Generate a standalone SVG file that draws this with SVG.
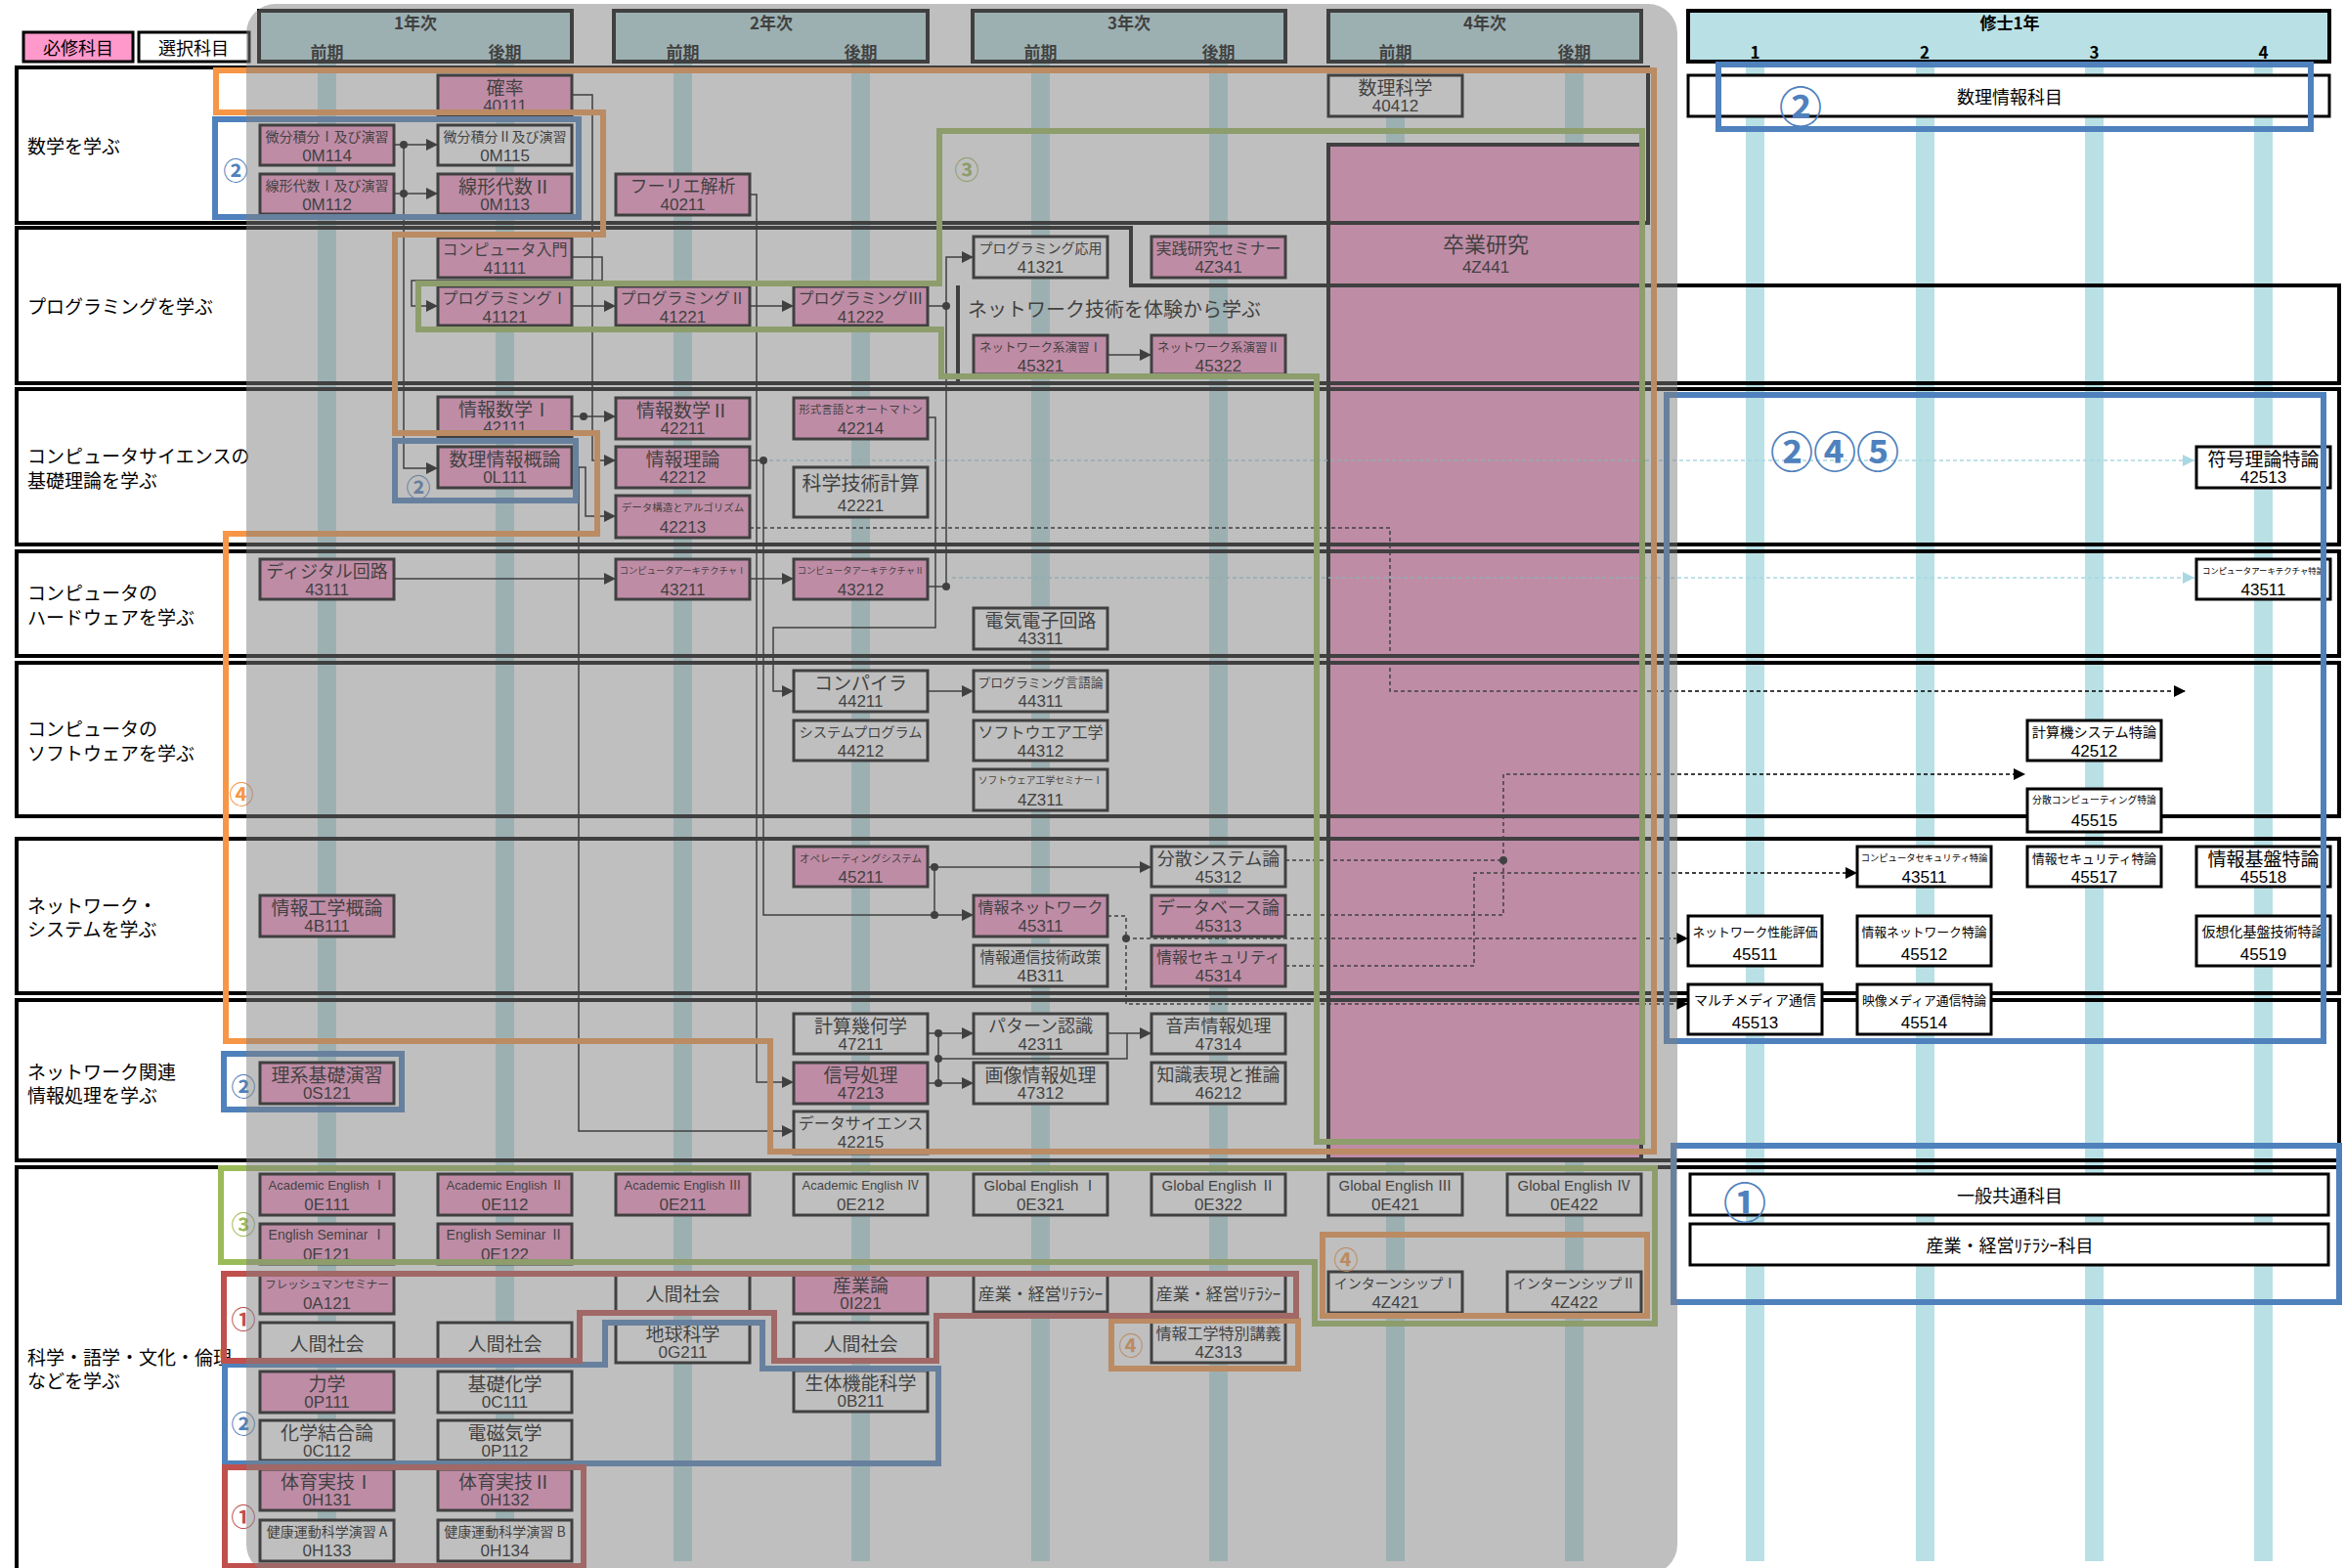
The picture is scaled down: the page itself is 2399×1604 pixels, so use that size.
<svg xmlns="http://www.w3.org/2000/svg" width="2399" height="1604" viewBox="0 0 2399 1604">
<defs>
<style>
text{font-family:"Noto Sans CJK JP","Noto Sans",sans-serif;fill:#000}
.c{text-anchor:middle;dominant-baseline:central}
.l{dominant-baseline:central;font-size:19px}
.q{fill:#ff99cc;stroke:#000;stroke-width:3}
.o{fill:#fff;stroke:#000;stroke-width:3}
.cd{font-family:"Liberation Sans","Noto Sans CJK JP",sans-serif;font-size:17px}
.en{font-family:"Liberation Sans","Noto Sans CJK JP",sans-serif}
.row{fill:none;stroke:#000;stroke-width:4}
.st{fill:#b9e0e5}
.hd{fill:#b9e0e5;stroke:#000;stroke-width:4}
.hb{font-weight:bold;font-size:17px}
.cn{fill:none;stroke:#000;stroke-width:1.5}
.dash{fill:none;stroke:#000;stroke-width:1.5;stroke-dasharray:4 3}
.teal{fill:none;stroke:#a8d8e2;stroke-width:1.5;stroke-dasharray:4 3}
.or{fill:none;stroke:#f79646;stroke-width:6}
.gr{fill:none;stroke:#9bbb59;stroke-width:6}
.bl{fill:none;stroke:#4f81bd;stroke-width:6}
.rd{fill:none;stroke:#c0504d;stroke-width:6}
.num{font-size:25px;font-weight:bold;text-anchor:middle;dominant-baseline:central}
.big{font-size:44px}
text.tO{fill:#f79646}
text.tG{fill:#9bbb59}
text.tB{fill:#4f81bd}
text.tR{fill:#c0504d}
</style>
<marker id="a" markerUnits="userSpaceOnUse" markerWidth="12" markerHeight="12" refX="12" refY="6" orient="auto"><path d="M0,0L12,6L0,12z" fill="#000"/></marker>
<marker id="at" markerUnits="userSpaceOnUse" markerWidth="12" markerHeight="12" refX="12" refY="6" orient="auto"><path d="M0,0L12,6L0,12z" fill="#a8d8e2"/></marker>
</defs>
<rect width="2399" height="1604" fill="#fff"/>

<g id="stripes">
<rect class="st" x="325" y="63" width="19" height="1534"/>
<rect class="st" x="507" y="63" width="19" height="1534"/>
<rect class="st" x="689" y="63" width="19" height="1534"/>
<rect class="st" x="871" y="63" width="19" height="1534"/>
<rect class="st" x="1055" y="63" width="19" height="1534"/>
<rect class="st" x="1237" y="63" width="19" height="1534"/>
<rect class="st" x="1418" y="63" width="19" height="1534"/>
<rect class="st" x="1601" y="63" width="19" height="1534"/>
<rect class="st" x="1786" y="63" width="19" height="1534"/>
<rect class="st" x="1960" y="63" width="19" height="1534"/>
<rect class="st" x="2133" y="63" width="19" height="1534"/>
<rect class="st" x="2306" y="63" width="19" height="1534"/>
</g>

<g id="n4Z441">
<rect x="1359" y="148" width="320" height="1038" fill="#ff99cc" stroke="#000" stroke-width="4"/>
<text class="c" x="1520" y="248" font-size="22">卒業研究</text>
<text class="c cd" x="1520" y="273">4Z441</text>
</g>

<g id="rows">
<rect class="row" x="17" y="69" width="1669" height="159"/>
<path class="row" d="M17,233H1157V292H2393V392H17Z"/>
<path class="row" d="M980,292V392"/>
<rect class="row" x="17" y="398" width="2376" height="159"/>
<rect class="row" x="17" y="564" width="2376" height="107"/>
<rect class="row" x="17" y="678" width="2376" height="157"/>
<rect class="row" x="17" y="858" width="2376" height="158"/>
<rect class="row" x="17" y="1023" width="2376" height="164"/>
<path class="row" d="M2393,1194H17V1610"/>
<text class="l" x="28" y="148">数学を学ぶ</text>
<text class="l" x="28" y="312">プログラミングを学ぶ</text>
<text class="l" x="990" y="315" style="font-size:20px">ネットワーク技術を体験から学ぶ</text>
<text class="l" x="28" y="465">コンピュータサイエンスの</text>
<text class="l" x="28" y="490">基礎理論を学ぶ</text>
<text class="l" x="28" y="605">コンピュータの</text>
<text class="l" x="28" y="630">ハードウェアを学ぶ</text>
<text class="l" x="28" y="744">コンピュータの</text>
<text class="l" x="28" y="769">ソフトウェアを学ぶ</text>
<text class="l" x="28" y="925">ネットワーク・</text>
<text class="l" x="28" y="949">システムを学ぶ</text>
<text class="l" x="28" y="1095">ネットワーク関連</text>
<text class="l" x="28" y="1119">情報処理を学ぶ</text>
<text class="l" x="28" y="1387">科学・語学・文化・倫理</text>
<text class="l" x="28" y="1411">などを学ぶ</text>
</g>

<g id="legend">
<rect x="24" y="33" width="112" height="30" fill="#ff99cc" stroke="#000" stroke-width="3"/>
<text class="c" x="80" y="48" font-size="18">必修科目</text>
<rect x="142" y="33" width="113" height="30" fill="#fff" stroke="#000" stroke-width="3"/>
<text class="c" x="198" y="48" font-size="18">選択科目</text>
</g>

<g id="headers">
<rect class="hd" x="265" y="11" width="320" height="52"/>
<text class="c hb" x="425" y="22">1年次</text><text class="c hb" x="334.5" y="52">前期</text><text class="c hb" x="516.5" y="52">後期</text>
<rect class="hd" x="628" y="11" width="321" height="52"/>
<text class="c hb" x="789" y="22">2年次</text><text class="c hb" x="698.5" y="52">前期</text><text class="c hb" x="880.5" y="52">後期</text>
<rect class="hd" x="995" y="11" width="320" height="52"/>
<text class="c hb" x="1155" y="22">3年次</text><text class="c hb" x="1064.5" y="52">前期</text><text class="c hb" x="1246.5" y="52">後期</text>
<rect class="hd" x="1359" y="11" width="320" height="52"/>
<text class="c hb" x="1519" y="22">4年次</text><text class="c hb" x="1427.5" y="52">前期</text><text class="c hb" x="1610.5" y="52">後期</text>
<rect class="hd" x="1727" y="11" width="656" height="52"/>
<text class="c hb" x="2056" y="22">修士1年</text>
<text class="c hb" x="1795.5" y="52">1</text><text class="c hb" x="1969" y="52">2</text><text class="c hb" x="2142.5" y="52">3</text><text class="c hb" x="2315.5" y="52">4</text>
</g>

<g id="connectors">
<path class="cn" marker-end="url(#a)" d="M403,148H448"/>
<path class="cn" marker-end="url(#a)" d="M403,198H448"/>
<path class="cn" marker-end="url(#a)" d="M413,148V479H448"/>
<circle cx="413" cy="148" r="4"/><circle cx="413" cy="198" r="4"/>
<path class="cn" marker-end="url(#a)" d="M585,263H616V287H421V313H448"/>
<path class="cn" marker-end="url(#a)" d="M585,313H630"/>
<path class="cn" marker-end="url(#a)" d="M767,313H812"/>
<path class="cn" d="M949,313H968M949,600H968"/>
<path class="cn" marker-end="url(#a)" d="M968,600V263H996"/>
<circle cx="968" cy="313" r="4"/><circle cx="968" cy="600" r="4"/>
<path class="cn" marker-end="url(#a)" d="M1133,363H1178"/>
<path class="cn" marker-end="url(#a)" d="M585,97H606V471H630"/>
<path class="cn" marker-end="url(#a)" d="M585,426H630"/>
<circle cx="597" cy="426" r="4"/>
<path class="cn" marker-end="url(#a)" d="M589,478H599V528H630"/>
<path class="cn" marker-end="url(#a)" d="M592,478V1157H812"/>
<path class="cn" marker-end="url(#a)" d="M767,199H774V1107H812"/>
<path class="cn" d="M767,471H781"/>
<path class="cn" marker-end="url(#a)" d="M781,471V936H996"/>
<circle cx="781" cy="471" r="4"/><circle cx="956" cy="936" r="4"/>
<path class="cn" marker-end="url(#a)" d="M949,427H957V642H791V707H812"/>
<path class="cn" marker-end="url(#a)" d="M949,707H996"/>
<path class="cn" marker-end="url(#a)" d="M403,592H630"/>
<path class="cn" marker-end="url(#a)" d="M767,592H812"/>
<path class="cn" marker-end="url(#a)" d="M949,887H1178"/>
<path class="cn" d="M956,887V936"/>
<circle cx="956" cy="887" r="4"/>
<path class="cn" marker-end="url(#a)" d="M949,1057H996"/>
<path class="cn" marker-end="url(#a)" d="M949,1108H996"/>
<path class="cn" d="M960,1057V1108M960,1083H1153V1057"/>
<path class="cn" marker-end="url(#a)" d="M1133,1057H1178"/>
<circle cx="960" cy="1057" r="4"/><circle cx="960" cy="1083" r="4"/><circle cx="960" cy="1108" r="4"/>
<path class="dash" marker-end="url(#a)" d="M767,540H1422V707H2236"/>
<path class="dash" d="M1315,880H1538V936H1315"/>
<path class="dash" marker-end="url(#a)" d="M1538,880V792H2072"/>
<circle cx="1538" cy="880" r="4"/>
<path class="dash" marker-end="url(#a)" d="M1315,988H1508V893H1900"/>
<path class="dash" marker-end="url(#a)" d="M1133,937H1152V1027H1727"/>
<path class="dash" marker-end="url(#a)" d="M1152,960H1727"/>
<circle cx="1152" cy="960" r="4"/>
<path class="teal" marker-end="url(#at)" d="M787,471H2245"/>
<path class="teal" marker-end="url(#at)" d="M974,591H2245"/>
</g>

<g id="nodes">
<g id="n40111"><rect class="q" x="448" y="77" width="137" height="42"/><text class="c" x="516.5" y="88" font-size="19">確率</text><text class="c cd" x="516.5" y="108">40111</text></g>
<g id="n0M114"><rect class="q" x="266" y="128" width="137" height="41"/><text class="c" x="334.5" y="139" font-size="14">微分積分Ⅰ及び演習</text><text class="c cd" x="334.5" y="159">0M114</text></g>
<g id="n0M115"><rect class="o" x="448" y="128" width="137" height="41"/><text class="c" x="516.5" y="139" font-size="14">微分積分Ⅱ及び演習</text><text class="c cd" x="516.5" y="159">0M115</text></g>
<g id="n0M112"><rect class="q" x="266" y="178" width="137" height="41"/><text class="c" x="334.5" y="189" font-size="14">線形代数Ⅰ及び演習</text><text class="c cd" x="334.5" y="209">0M112</text></g>
<g id="n0M113"><rect class="q" x="448" y="178" width="137" height="41"/><text class="c" x="516.5" y="189" font-size="19">線形代数Ⅱ</text><text class="c cd" x="516.5" y="209">0M113</text></g>
<g id="n40211"><rect class="q" x="630" y="178" width="137" height="42"/><text class="c" x="698.5" y="189" font-size="18">フーリエ解析</text><text class="c cd" x="698.5" y="209">40211</text></g>
<g id="n40412"><rect class="o" x="1359" y="77" width="137" height="42"/><text class="c" x="1427.5" y="88" font-size="19">数理科学</text><text class="c cd" x="1427.5" y="108">40412</text></g>

<g id="n41111"><rect class="q" x="448" y="243" width="137" height="41"/><text class="c" x="516.5" y="254" font-size="16">コンピュータ入門</text><text class="c cd" x="516.5" y="274">41111</text></g>
<g id="n41121"><rect class="q" x="448" y="293" width="137" height="40"/><text class="c" x="516.5" y="304" font-size="16">プログラミングⅠ</text><text class="c cd" x="516.5" y="324">41121</text></g>
<g id="n41221"><rect class="q" x="630" y="293" width="137" height="40"/><text class="c" x="698.5" y="304" font-size="16">プログラミングⅡ</text><text class="c cd" x="698.5" y="324">41221</text></g>
<g id="n41222"><rect class="q" x="812" y="293" width="137" height="40"/><text class="c" x="880.5" y="304" font-size="16">プログラミングⅢ</text><text class="c cd" x="880.5" y="324">41222</text></g>
<g id="n41321"><rect class="o" x="996" y="242" width="137" height="42"/><text class="c" x="1064.5" y="253" font-size="14">プログラミング応用</text><text class="c cd" x="1064.5" y="273">41321</text></g>
<g id="n4Z341"><rect class="q" x="1178" y="242" width="137" height="42"/><text class="c" x="1246.5" y="253" font-size="16">実践研究セミナー</text><text class="c cd" x="1246.5" y="273">4Z341</text></g>
<g id="n45321"><rect class="q" x="996" y="343" width="137" height="40"/><text class="c" x="1064.5" y="354" font-size="12.5">ネットワーク系演習Ⅰ</text><text class="c cd" x="1064.5" y="374">45321</text></g>
<g id="n45322"><rect class="q" x="1178" y="343" width="137" height="40"/><text class="c" x="1246.5" y="354" font-size="12.5">ネットワーク系演習Ⅱ</text><text class="c cd" x="1246.5" y="374">45322</text></g>

<g id="n42111"><rect class="q" x="448" y="406" width="137" height="41"/><text class="c" x="516.5" y="417" font-size="19">情報数学Ⅰ</text><text class="c cd" x="516.5" y="437">42111</text></g>
<g id="n0L111"><rect class="q" x="448" y="457" width="137" height="42"/><text class="c" x="516.5" y="468" font-size="19">数理情報概論</text><text class="c cd" x="516.5" y="488">0L111</text></g>
<g id="n42211"><rect class="q" x="630" y="407" width="137" height="42"/><text class="c" x="698.5" y="418" font-size="19">情報数学Ⅱ</text><text class="c cd" x="698.5" y="438">42211</text></g>
<g id="n42212"><rect class="q" x="630" y="457" width="137" height="42"/><text class="c" x="698.5" y="468" font-size="19">情報理論</text><text class="c cd" x="698.5" y="488">42212</text></g>
<g id="n42213"><rect class="q" x="630" y="507" width="137" height="43"/><text class="c" x="698.5" y="518" font-size="10.5">データ構造とアルゴリズム</text><text class="c cd" x="698.5" y="539">42213</text></g>
<g id="n42214"><rect class="q" x="812" y="407" width="137" height="42"/><text class="c" x="880.5" y="418" font-size="11.5">形式言語とオートマトン</text><text class="c cd" x="880.5" y="438">42214</text></g>
<g id="n42221"><rect class="o" x="812" y="478" width="137" height="51"/><text class="c" x="880.5" y="493" font-size="20">科学技術計算</text><text class="c cd" x="880.5" y="517">42221</text></g>
<g id="n42513"><rect class="o" x="2247" y="457" width="137" height="42"/><text class="c" x="2315.5" y="468" font-size="19">符号理論特論</text><text class="c cd" x="2315.5" y="488">42513</text></g>

<g id="n43111"><rect class="q" x="266" y="572" width="137" height="41"/><text class="c" x="334.5" y="583" font-size="18">ディジタル回路</text><text class="c cd" x="334.5" y="603">43111</text></g>
<g id="n43211"><rect class="q" x="630" y="572" width="137" height="41"/><text class="c" x="698.5" y="583" font-size="9.3">コンピュータアーキテクチャⅠ</text><text class="c cd" x="698.5" y="603">43211</text></g>
<g id="n43212"><rect class="q" x="812" y="572" width="137" height="41"/><text class="c" x="880.5" y="583" font-size="9.3">コンピュータアーキテクチャⅡ</text><text class="c cd" x="880.5" y="603">43212</text></g>
<g id="n43311"><rect class="o" x="996" y="622" width="137" height="42"/><text class="c" x="1064.5" y="633" font-size="19">電気電子回路</text><text class="c cd" x="1064.5" y="653">43311</text></g>
<g id="n43511a"><rect class="o" x="2247" y="572" width="137" height="41"/><text class="c" x="2315.5" y="583" font-size="8.4">コンピュータアーキテクチャ特論</text><text class="c cd" x="2315.5" y="603">43511</text></g>

<g id="n44211"><rect class="o" x="812" y="686" width="137" height="42"/><text class="c" x="880.5" y="697" font-size="19">コンパイラ</text><text class="c cd" x="880.5" y="717">44211</text></g>
<g id="n44311"><rect class="o" x="996" y="686" width="137" height="42"/><text class="c" x="1064.5" y="697" font-size="12.8">プログラミング言語論</text><text class="c cd" x="1064.5" y="717">44311</text></g>
<g id="n44212"><rect class="o" x="812" y="737" width="137" height="41"/><text class="c" x="880.5" y="748" font-size="14.2">システムプログラム</text><text class="c cd" x="880.5" y="768">44212</text></g>
<g id="n44312"><rect class="o" x="996" y="737" width="137" height="41"/><text class="c" x="1064.5" y="748" font-size="16">ソフトウエア工学</text><text class="c cd" x="1064.5" y="768">44312</text></g>
<g id="n4Z311"><rect class="o" x="996" y="787" width="137" height="42"/><text class="c" x="1064.5" y="798" font-size="9.8">ソフトウェア工学セミナーⅠ</text><text class="c cd" x="1064.5" y="818">4Z311</text></g>
<g id="n42512"><rect class="o" x="2074" y="737" width="137" height="41"/><text class="c" x="2142.5" y="748" font-size="14.2">計算機システム特論</text><text class="c cd" x="2142.5" y="768">42512</text></g>
<g id="n45515"><rect class="o" x="2074" y="807" width="137" height="44"/><text class="c" x="2142.5" y="818" font-size="9.8">分散コンピューティング特論</text><text class="c cd" x="2142.5" y="839">45515</text></g>

<g id="n4B111"><rect class="q" x="266" y="916" width="137" height="42"/><text class="c" x="334.5" y="927" font-size="19">情報工学概論</text><text class="c cd" x="334.5" y="947">4B111</text></g>
<g id="n45211"><rect class="q" x="812" y="866" width="137" height="41"/><text class="c" x="880.5" y="877" font-size="10.5">オペレーティングシステム</text><text class="c cd" x="880.5" y="897">45211</text></g>
<g id="n45311"><rect class="q" x="996" y="916" width="137" height="42"/><text class="c" x="1064.5" y="927" font-size="16">情報ネットワーク</text><text class="c cd" x="1064.5" y="947">45311</text></g>
<g id="n4B311"><rect class="o" x="996" y="967" width="137" height="42"/><text class="c" x="1064.5" y="978" font-size="15.5">情報通信技術政策</text><text class="c cd" x="1064.5" y="998">4B311</text></g>
<g id="n45312"><rect class="o" x="1178" y="866" width="137" height="41"/><text class="c" x="1246.5" y="877" font-size="18">分散システム論</text><text class="c cd" x="1246.5" y="897">45312</text></g>
<g id="n45313"><rect class="q" x="1178" y="916" width="137" height="42"/><text class="c" x="1246.5" y="927" font-size="18">データベース論</text><text class="c cd" x="1246.5" y="947">45313</text></g>
<g id="n45314"><rect class="q" x="1178" y="967" width="137" height="42"/><text class="c" x="1246.5" y="978" font-size="16">情報セキュリティ</text><text class="c cd" x="1246.5" y="998">45314</text></g>
<g id="n43511b"><rect class="o" x="1900" y="866" width="137" height="41"/><text class="c" x="1968.5" y="877" font-size="9.3">コンピュータセキュリティ特論</text><text class="c cd" x="1968.5" y="897">43511</text></g>
<g id="n45517"><rect class="o" x="2074" y="866" width="137" height="41"/><text class="c" x="2142.5" y="877" font-size="12.8">情報セキュリティ特論</text><text class="c cd" x="2142.5" y="897">45517</text></g>
<g id="n45518"><rect class="o" x="2247" y="866" width="137" height="41"/><text class="c" x="2315.5" y="877" font-size="19">情報基盤特論</text><text class="c cd" x="2315.5" y="897">45518</text></g>
<g id="n45511"><rect class="o" x="1727" y="937" width="137" height="51"/><text class="c" x="1795.5" y="952" font-size="12.8">ネットワーク性能評価</text><text class="c cd" x="1795.5" y="976">45511</text></g>
<g id="n45512"><rect class="o" x="1900" y="937" width="137" height="51"/><text class="c" x="1968.5" y="952" font-size="12.8">情報ネットワーク特論</text><text class="c cd" x="1968.5" y="976">45512</text></g>
<g id="n45519"><rect class="o" x="2247" y="937" width="137" height="51"/><text class="c" x="2315.5" y="952" font-size="14">仮想化基盤技術特論</text><text class="c cd" x="2315.5" y="976">45519</text></g>

<g id="n0S121"><rect class="q" x="266" y="1087" width="137" height="42"/><text class="c" x="334.5" y="1098" font-size="19">理系基礎演習</text><text class="c cd" x="334.5" y="1118">0S121</text></g>
<g id="n47211"><rect class="o" x="812" y="1037" width="137" height="41"/><text class="c" x="880.5" y="1048" font-size="19">計算幾何学</text><text class="c cd" x="880.5" y="1068">47211</text></g>
<g id="n42311"><rect class="o" x="996" y="1037" width="137" height="41"/><text class="c" x="1064.5" y="1048" font-size="18">パターン認識</text><text class="c cd" x="1064.5" y="1068">42311</text></g>
<g id="n47314"><rect class="o" x="1178" y="1037" width="137" height="41"/><text class="c" x="1246.5" y="1048" font-size="18">音声情報処理</text><text class="c cd" x="1246.5" y="1068">47314</text></g>
<g id="n47213"><rect class="q" x="812" y="1087" width="137" height="42"/><text class="c" x="880.5" y="1098" font-size="19">信号処理</text><text class="c cd" x="880.5" y="1118">47213</text></g>
<g id="n47312"><rect class="o" x="996" y="1087" width="137" height="42"/><text class="c" x="1064.5" y="1098" font-size="19">画像情報処理</text><text class="c cd" x="1064.5" y="1118">47312</text></g>
<g id="n46212"><rect class="o" x="1178" y="1087" width="137" height="42"/><text class="c" x="1246.5" y="1098" font-size="18">知識表現と推論</text><text class="c cd" x="1246.5" y="1118">46212</text></g>
<g id="n42215"><rect class="o" x="812" y="1137" width="137" height="43"/><text class="c" x="880.5" y="1148" font-size="16">データサイエンス</text><text class="c cd" x="880.5" y="1168">42215</text></g>
<g id="n45513"><rect class="o" x="1727" y="1007" width="137" height="51"/><text class="c" x="1795.5" y="1022" font-size="14">マルチメディア通信</text><text class="c cd" x="1795.5" y="1046">45513</text></g>
<g id="n45514"><rect class="o" x="1900" y="1007" width="137" height="51"/><text class="c" x="1968.5" y="1022" font-size="12.8">映像メディア通信特論</text><text class="c cd" x="1968.5" y="1046">45514</text></g>

<g id="n0E111"><rect class="q" x="266" y="1201" width="137" height="42"/><text class="c en" x="334.5" y="1212" font-size="13">Academic English Ⅰ</text><text class="c cd" x="334.5" y="1232">0E111</text></g>
<g id="n0E112"><rect class="q" x="448" y="1201" width="137" height="42"/><text class="c en" x="516.5" y="1212" font-size="13">Academic English Ⅱ</text><text class="c cd" x="516.5" y="1232">0E112</text></g>
<g id="n0E211"><rect class="q" x="630" y="1201" width="137" height="42"/><text class="c en" x="698.5" y="1212" font-size="13">Academic English Ⅲ</text><text class="c cd" x="698.5" y="1232">0E211</text></g>
<g id="n0E212"><rect class="o" x="812" y="1201" width="137" height="42"/><text class="c en" x="880.5" y="1212" font-size="13">Academic English Ⅳ</text><text class="c cd" x="880.5" y="1232">0E212</text></g>
<g id="n0E321"><rect class="o" x="996" y="1201" width="137" height="42"/><text class="c en" x="1064.5" y="1212" font-size="15">Global English Ⅰ</text><text class="c cd" x="1064.5" y="1232">0E321</text></g>
<g id="n0E322"><rect class="o" x="1178" y="1201" width="137" height="42"/><text class="c en" x="1246.5" y="1212" font-size="15">Global English Ⅱ</text><text class="c cd" x="1246.5" y="1232">0E322</text></g>
<g id="n0E421"><rect class="o" x="1359" y="1201" width="137" height="42"/><text class="c en" x="1427.5" y="1212" font-size="15">Global English Ⅲ</text><text class="c cd" x="1427.5" y="1232">0E421</text></g>
<g id="n0E422"><rect class="o" x="1542" y="1201" width="137" height="42"/><text class="c en" x="1610.5" y="1212" font-size="15">Global English Ⅳ</text><text class="c cd" x="1610.5" y="1232">0E422</text></g>
<g id="n0E121"><rect class="q" x="266" y="1252" width="137" height="41"/><text class="c en" x="334.5" y="1263" font-size="14">English Seminar Ⅰ</text><text class="c cd" x="334.5" y="1283">0E121</text></g>
<g id="n0E122"><rect class="q" x="448" y="1252" width="137" height="41"/><text class="c en" x="516.5" y="1263" font-size="14">English Seminar Ⅱ</text><text class="c cd" x="516.5" y="1283">0E122</text></g>
<g id="n0A121"><rect class="q" x="266" y="1302" width="137" height="42"/><text class="c" x="334.5" y="1313" font-size="11.5">フレッシュマンセミナー</text><text class="c cd" x="334.5" y="1333">0A121</text></g>
<g id="nJ1"><rect class="o" x="266" y="1353" width="137" height="40"/><text class="c" x="334.5" y="1373" font-size="19">人間社会</text></g>
<g id="nJ2"><rect class="o" x="448" y="1353" width="137" height="40"/><text class="c" x="516.5" y="1373" font-size="19">人間社会</text></g>
<g id="nJ3"><rect class="o" x="630" y="1302" width="137" height="40"/><text class="c" x="698.5" y="1322" font-size="19">人間社会</text></g>
<g id="n0I221"><rect class="q" x="812" y="1302" width="137" height="42"/><text class="c" x="880.5" y="1313" font-size="19">産業論</text><text class="c cd" x="880.5" y="1333">0I221</text></g>
<g id="nJ4"><rect class="o" x="812" y="1353" width="137" height="40"/><text class="c" x="880.5" y="1373" font-size="19">人間社会</text></g>
<g id="nS1"><rect class="o" x="996" y="1302" width="137" height="40"/><text class="c" x="1064.5" y="1322" font-size="17">産業・経営ﾘﾃﾗｼｰ</text></g>
<g id="nS2"><rect class="o" x="1178" y="1302" width="137" height="40"/><text class="c" x="1246.5" y="1322" font-size="17">産業・経営ﾘﾃﾗｼｰ</text></g>
<g id="n0G211"><rect class="o" x="630" y="1352" width="137" height="42"/><text class="c" x="698.5" y="1363" font-size="19">地球科学</text><text class="c cd" x="698.5" y="1383">0G211</text></g>
<g id="n0B211"><rect class="o" x="812" y="1402" width="137" height="42"/><text class="c" x="880.5" y="1413" font-size="19">生体機能科学</text><text class="c cd" x="880.5" y="1433">0B211</text></g>
<g id="n4Z313"><rect class="o" x="1178" y="1352" width="137" height="42"/><text class="c" x="1246.5" y="1363" font-size="16">情報工学特別講義</text><text class="c cd" x="1246.5" y="1383">4Z313</text></g>
<g id="n4Z421"><rect class="o" x="1359" y="1301" width="137" height="42"/><text class="c" x="1427.5" y="1312" font-size="14">インターンシップⅠ</text><text class="c cd" x="1427.5" y="1332">4Z421</text></g>
<g id="n4Z422"><rect class="o" x="1542" y="1301" width="137" height="42"/><text class="c" x="1610.5" y="1312" font-size="14">インターンシップⅡ</text><text class="c cd" x="1610.5" y="1332">4Z422</text></g>
<g id="n0P111"><rect class="q" x="266" y="1403" width="137" height="42"/><text class="c" x="334.5" y="1414" font-size="19">力学</text><text class="c cd" x="334.5" y="1434">0P111</text></g>
<g id="n0C111"><rect class="o" x="448" y="1403" width="137" height="42"/><text class="c" x="516.5" y="1414" font-size="19">基礎化学</text><text class="c cd" x="516.5" y="1434">0C111</text></g>
<g id="n0C112"><rect class="o" x="266" y="1453" width="137" height="41"/><text class="c" x="334.5" y="1464" font-size="19">化学結合論</text><text class="c cd" x="334.5" y="1484">0C112</text></g>
<g id="n0P112"><rect class="o" x="448" y="1453" width="137" height="41"/><text class="c" x="516.5" y="1464" font-size="19">電磁気学</text><text class="c cd" x="516.5" y="1484">0P112</text></g>
<g id="n0H131"><rect class="q" x="266" y="1503" width="137" height="42"/><text class="c" x="334.5" y="1514" font-size="19">体育実技Ⅰ</text><text class="c cd" x="334.5" y="1534">0H131</text></g>
<g id="n0H132"><rect class="q" x="448" y="1503" width="137" height="42"/><text class="c" x="516.5" y="1514" font-size="19">体育実技Ⅱ</text><text class="c cd" x="516.5" y="1534">0H132</text></g>
<g id="n0H133"><rect class="o" x="266" y="1555" width="137" height="42"/><text class="c" x="334.5" y="1566" font-size="14">健康運動科学演習 A</text><text class="c cd" x="334.5" y="1586">0H133</text></g>
<g id="n0H134"><rect class="o" x="448" y="1555" width="137" height="42"/><text class="c" x="516.5" y="1566" font-size="14">健康運動科学演習 B</text><text class="c cd" x="516.5" y="1586">0H134</text></g>

<g id="m1-cat1"><rect class="o" x="1727" y="77" width="656" height="42"/><text class="c" x="2056" y="98" font-size="18">数理情報科目</text></g>
<g id="m1-cat2"><rect class="o" x="1729" y="1201" width="653" height="42"/><text class="c" x="2056" y="1222" font-size="18">一般共通科目</text></g>
<g id="m1-cat3"><rect class="o" x="1729" y="1252" width="653" height="42"/><text class="c" x="2056" y="1273" font-size="18">産業・経営ﾘﾃﾗｼｰ科目</text></g>
</g>

<g id="groups">
<path class="or" d="M221,72H1692V1178H788V1065H231V546H611V443H404V240H617V115H221Z"/>
<text class="num tO" x="247" y="811">④</text>
<rect class="or" x="1137" y="1351" width="191" height="49"/>
<text class="num tO" x="1157" y="1375">④</text>
<rect class="or" x="1353" y="1263" width="332" height="83"/>
<text class="num tO" x="1377" y="1287">④</text>

<path class="gr" d="M428,290H961V134H1680V1168H1347V385H963V337H428Z"/>
<text class="num tG" x="989" y="172">③</text>
<path class="gr" d="M226,1195H1693V1354H1345V1291H226Z"/>
<text class="num tG" x="249" y="1251">③</text>

<rect class="bl" x="220" y="122" width="372" height="100"/>
<text class="num tB" x="241" y="173">②</text>
<rect class="bl" x="404" y="451" width="185" height="61"/>
<text class="num tB" x="428" y="497">②</text>
<rect class="bl" x="229" y="1078" width="182" height="57"/>
<text class="num tB" x="249" y="1110">②</text>
<path class="bl" d="M230,1396H619V1353H780V1400H960V1497H230Z"/>
<text class="num tB" x="249" y="1455">②</text>
<rect class="bl" x="1758" y="66" width="606" height="66"/>
<text class="num big tB" x="1842" y="107">②</text>
<rect class="bl" x="1705" y="404" width="672" height="661"/>
<text class="num big tB" x="1877" y="460">②④⑤</text>
<rect class="bl" x="1712" y="1172" width="681" height="160"/>
<text class="num big tB" x="1785" y="1228">①</text>

<path class="rd" d="M229,1303H1326V1346H958V1392H792V1343H593V1392H229Z"/>
<text class="num tR" x="249" y="1348">①</text>
<rect class="rd" x="230" y="1501" width="367" height="101"/>
<text class="num tR" x="249" y="1550">①</text>
</g>

<rect id="overlay" x="252" y="4" width="1464" height="1606" rx="30" fill="#808080" fill-opacity="0.5"/>
</svg>
